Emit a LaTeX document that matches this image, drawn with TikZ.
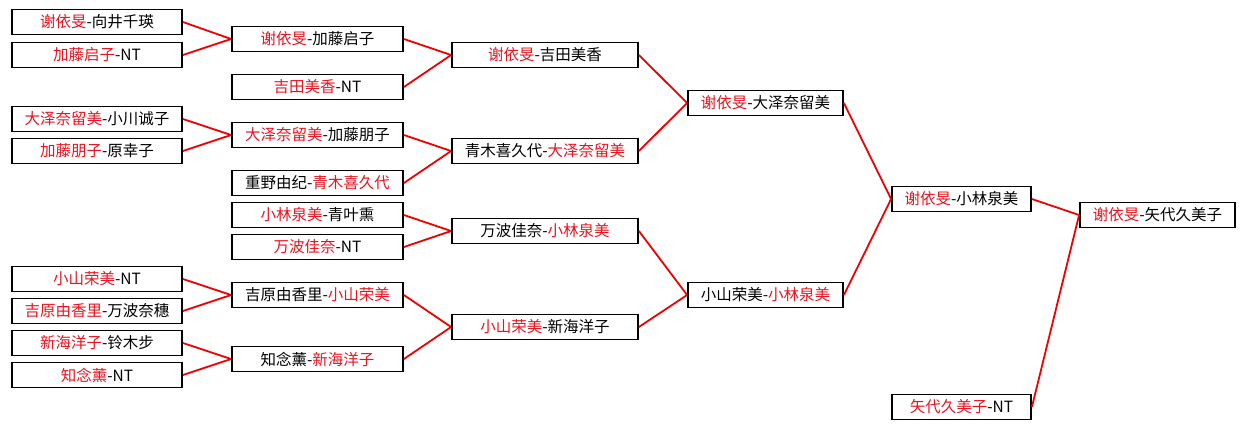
\documentclass[tikz,border=0pt]{standalone}
\usepackage{fontspec}
\newfontfamily\cjk{Noto Sans CJK SC}
\usepackage{xcolor}
\definecolor{winred}{HTML}{E8141E}
\definecolor{linkred}{HTML}{F00000}
\newcommand{\winner}[1]{\textcolor{winred}{#1}}
\tikzset{
    player/.style = {
      draw = black,
      fill = white,
      line width = 1.8pt,
      minimum height = 25pt,
      inner sep = 0pt,
      font = \cjk\fontsize{15.5}{17}\selectfont,
    },
    roundA/.style = {player, minimum width = 170pt},
    roundB/.style = {player, minimum width = 171pt},
    roundC/.style = {player, minimum width = 186pt},
    roundD/.style = {player, minimum width = 155pt},
    roundE/.style = {player, minimum width = 139pt},
    roundF/.style = {player, minimum width = 155pt},
    link/.style = {
      draw = linkred,
      line width = 1.8pt,
    },
}
\begin{document}
\begin{tikzpicture}[x=1pt, y=-1pt]
    \useasboundingbox[fill=white] (0, 0) rectangle (1245, 429);

    % first round
    \node[roundA] (A1) at (97, 22)  {\winner{谢依旻}-向井千瑛};
    \node[roundA] (A2) at (97, 55)  {\winner{加藤启子}-NT};
    \node[roundA] (A3) at (97, 119) {\winner{大泽奈留美}-小川诚子};
    \node[roundA] (A4) at (97, 151) {\winner{加藤朋子}-原幸子};
    \node[roundA] (A5) at (97, 279) {\winner{小山荣美}-NT};
    \node[roundA] (A6) at (97, 311) {\winner{吉原由香里}-万波奈穗};
    \node[roundA] (A7) at (97, 343) {\winner{新海洋子}-铃木步};
    \node[roundA] (A8) at (97, 375) {\winner{知念薰}-NT};

    % second round
    \node[roundB] (B1) at (317.5, 39)  {\winner{谢依旻}-加藤启子};
    \node[roundB] (B2) at (317.5, 87)  {\winner{吉田美香}-NT};
    \node[roundB] (B3) at (317.5, 135) {\winner{大泽奈留美}-加藤朋子};
    \node[roundB] (B4) at (317.5, 183) {重野由纪-\winner{青木喜久代}};
    \node[roundB] (B5) at (317.5, 215) {\winner{小林泉美}-青叶熏};
    \node[roundB] (B6) at (317.5, 247) {\winner{万波佳奈}-NT};
    \node[roundB] (B7) at (317.5, 295) {吉原由香里-\winner{小山荣美}};
    \node[roundB] (B8) at (317.5, 359) {知念薰-\winner{新海洋子}};

    % third round
    \node[roundC] (C1) at (545, 55)  {\winner{谢依旻}-吉田美香};
    \node[roundC] (C2) at (545, 151) {青木喜久代-\winner{大泽奈留美}};
    \node[roundC] (C3) at (545, 231) {万波佳奈-\winner{小林泉美}};
    \node[roundC] (C4) at (545, 327) {\winner{小山荣美}-新海洋子};

    % quarter and semi
    \node[roundD] (D1) at (765.5, 103) {\winner{谢依旻}-大泽奈留美};
    \node[roundD] (D2) at (765.5, 295) {小山荣美-\winner{小林泉美}};

    \node[roundE] (E1) at (961.5, 199) {\winner{谢依旻}-小林泉美};
    \node[roundE] (E2) at (961.5, 407) {\winner{矢代久美子}-NT};

    \node[roundF] (F1) at (1157.5, 215) {\winner{谢依旻}-矢代久美子};

    \draw[link] (A1.east) -- (B1.west);
    \draw[link] (A2.east) -- (B1.west);
    \draw[link] (A3.east) -- (B3.west);
    \draw[link] (A4.east) -- (B3.west);
    \draw[link] (A5.east) -- (B7.west);
    \draw[link] (A6.east) -- (B7.west);
    \draw[link] (A7.east) -- (B8.west);
    \draw[link] (A8.east) -- (B8.west);

    \draw[link] (B1.east) -- (C1.west);
    \draw[link] (B2.east) -- (C1.west);
    \draw[link] (B3.east) -- (C2.west);
    \draw[link] (B4.east) -- (C2.west);
    \draw[link] (B5.east) -- (C3.west);
    \draw[link] (B6.east) -- (C3.west);
    \draw[link] (B7.east) -- (C4.west);
    \draw[link] (B8.east) -- (C4.west);

    \draw[link] (C1.east) -- (D1.west);
    \draw[link] (C2.east) -- (D1.west);
    \draw[link] (C3.east) -- (D2.west);
    \draw[link] (C4.east) -- (D2.west);

    \draw[link] (D1.east) -- (E1.west);
    \draw[link] (D2.east) -- (E1.west);

    \draw[link] (E1.east) -- (F1.west);
    \draw[link] (E2.east) -- (F1.west);
\end{tikzpicture}
\end{document}
